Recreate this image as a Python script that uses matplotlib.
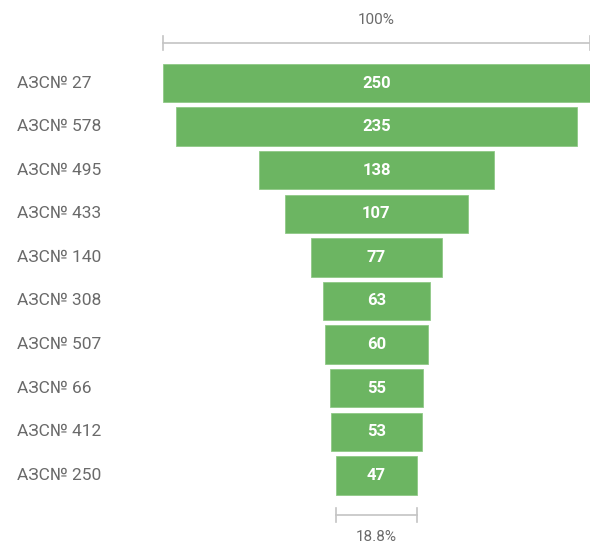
import matplotlib.pyplot as plt
import matplotlib.transforms as mtransforms

plt.rcParams['font.family'] = ['Roboto', 'DejaVu Sans']

stations = ["АЗС№ 27", "АЗС№ 578", "АЗС№ 495", "АЗС№ 433", "АЗС№ 140",
            "АЗС№ 308", "АЗС№ 507", "АЗС№ 66", "АЗС№ 412", "АЗС№ 250"]
values = [250, 235, 138, 107, 77, 63, 60, 55, 53, 47]

green = '#6cb562'
grey_txt = '#6a6a6a'
line_col = '#c4c4c4'

fig = plt.figure(figsize=(5.9, 5.46), dpi=100)
ax = fig.add_axes([0, 0, 1, 1])
ax.axis('off')

top = max(values)
ax.set_xlim(-220.4, 125)
ax.set_ylim(10.62, -1.904)

ypos = list(range(len(values)))
lefts = [-v / 2 for v in values]
ax.barh(ypos, values, left=lefts, height=0.88, color=green,
        edgecolor='#8fc987', linewidth=0.6)

for y, v in zip(ypos, values):
    ax.text(0, y, str(v), ha='center', va='center', color='white',
            fontsize=12, fontweight='bold')

trans = mtransforms.blended_transform_factory(ax.transAxes, ax.transData)
for y, name in zip(ypos, stations):
    ax.text(17 / 590, y, name, ha='left', va='center', color=grey_txt,
            fontsize=12.5, transform=trans)

# brackets with percentages
def bracket(v, y, ty, label):
    ax.plot([-v / 2, v / 2], [y, y], color=line_col, lw=1.2)
    for x in (-v / 2, v / 2):
        ax.plot([x, x], [y - 0.17, y + 0.17], color=line_col, lw=1.2)
    ax.text(0, ty, label, ha='center', va='center', color=grey_txt, fontsize=11)

bracket(values[0], -0.917, -1.445, "100%")
last = values[-1]
bracket(last, 9.91, 10.41, f"{last / top * 100:.1f}%")

fig.savefig('out.png', dpi=100)
